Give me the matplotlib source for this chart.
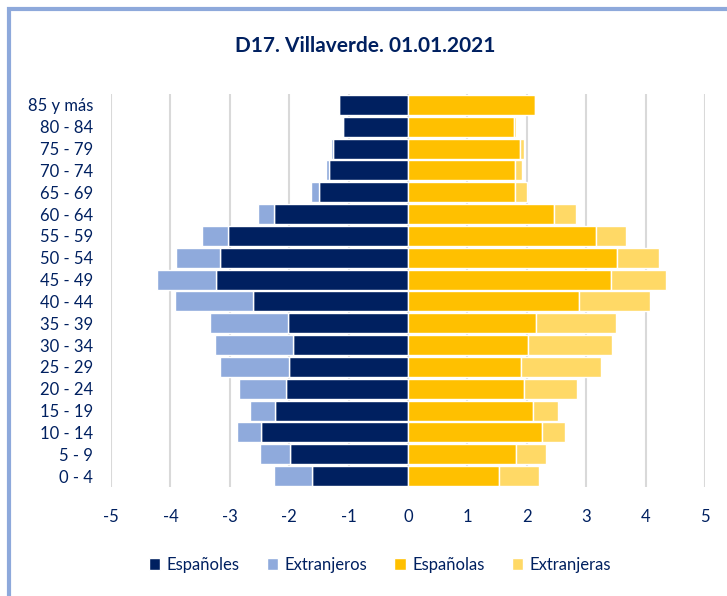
import numpy as np
import matplotlib.pyplot as plt
from matplotlib.patches import Rectangle

plt.rcParams['font.family'] = ['Lato', 'DejaVu Sans']

# age groups, bottom to top
ages = ["0 - 4", "5 - 9", "10 - 14", "15 - 19", "20 - 24", "25 - 29", "30 - 34",
        "35 - 39", "40 - 44", "45 - 49", "50 - 54", "55 - 59", "60 - 64",
        "65 - 69", "70 - 74", "75 - 79", "80 - 84", "85 y más"]

# men (% of population)
esp_h = [1.62, 1.98, 2.47, 2.24, 2.05, 2.00, 1.94, 2.02, 2.61, 3.23, 3.17, 3.03, 2.25,
         1.50, 1.33, 1.26, 1.10, 1.16]
ext_h = [0.64, 0.52, 0.41, 0.42, 0.80, 1.17, 1.31, 1.31, 1.32, 1.00, 0.74, 0.44, 0.27,
         0.14, 0.05, 0.04, 0.00, 0.00]

# women
esp_m = [1.54, 1.82, 2.26, 2.10, 1.96, 1.90, 2.02, 2.16, 2.88, 3.41, 3.52, 3.16, 2.46,
         1.80, 1.80, 1.89, 1.79, 2.14]
ext_m = [0.67, 0.50, 0.38, 0.43, 0.89, 1.35, 1.41, 1.35, 1.19, 0.94, 0.71, 0.51, 0.37,
         0.20, 0.12, 0.06, 0.03, 0.00]

navy = "#002060"
col_esp_h = "#002060"
col_ext_h = "#8FAADC"
col_esp_m = "#FFC000"
col_ext_m = "#FFD966"

y = np.arange(len(ages))
esp_h = np.array(esp_h)
ext_h = np.array(ext_h)
esp_m = np.array(esp_m)
ext_m = np.array(ext_m)

fig = plt.figure(figsize=(7.27, 5.96), dpi=100)
ax = fig.add_axes([111 / 727, 1 - 487 / 596, 594 / 727, 393 / 596])

h = 0.92
ax.barh(y, -esp_h, height=h, color=col_esp_h, edgecolor="white", linewidth=1, label="Españoles", zorder=3)
ax.barh(y, -ext_h, left=-esp_h, height=h, color=col_ext_h, edgecolor="white", linewidth=1, label="Extranjeros", zorder=3)
ax.barh(y, esp_m, height=h, color=col_esp_m, edgecolor="white", linewidth=1, label="Españolas", zorder=3)
ax.barh(y, ext_m, left=esp_m, height=h, color=col_ext_m, edgecolor="white", linewidth=1, label="Extranjeras", zorder=3)

ax.set_xlim(-5, 5)
ax.set_ylim(-0.5, len(ages) - 0.5)
ax.set_xticks(range(-5, 6))
ax.set_xticklabels([str(v) for v in range(-5, 6)])
ax.set_yticks(y)
ax.set_yticklabels(ages)
ax.grid(axis="x", color="#D9D9D9", linewidth=1.5, zorder=0)
for s in ax.spines.values():
    s.set_visible(False)
ax.tick_params(length=0, labelsize=12, colors=navy)
ax.tick_params(axis="x", pad=16)
ax.tick_params(axis="y", pad=13)

fig.text(0.502, 1 - 46 / 596, "D17. Villaverde. 01.01.2021", ha="center", va="center",
         fontsize=15, fontweight="bold", color=navy)

ax.legend(loc="center", bbox_to_anchor=(380 / 727, 1 - 565 / 596), bbox_transform=fig.transFigure,
          ncol=4, frameon=False, fontsize=12, labelcolor=navy, handlelength=0.7, handleheight=0.7,
          handletextpad=0.4, columnspacing=1.6)

fig.patches.append(Rectangle((9 / 727, -0.5), 2.0, 1.5 - 9 / 596, transform=fig.transFigure,
                             fill=False, edgecolor="#8EA9DB", linewidth=3))

fig.savefig("out.png", dpi=100)
